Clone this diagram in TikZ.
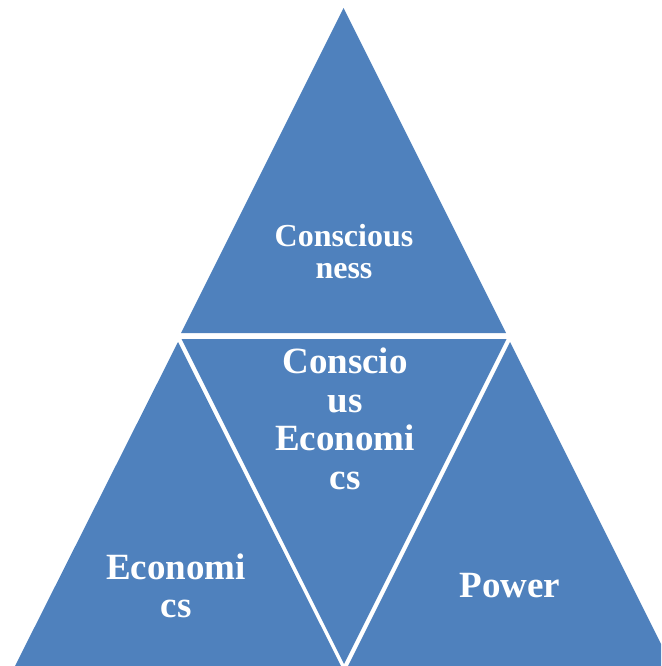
\documentclass[tikz,border=0pt]{standalone}
\usepackage{fontspec}
\setmainfont{Liberation Serif}
\definecolor{triblue}{HTML}{4F81BD}
\begin{document}
\begin{tikzpicture}[x=1pt,y=-1pt,
  tri/.style={fill=triblue,draw=none},
  lbl/.style={text=white,align=center,inner sep=0pt,font=\bfseries\fontsize{37}{38.5}\selectfont},
  lblsmall/.style={text=white,align=center,inner sep=0pt,font=\bfseries\fontsize{32}{32.5}\selectfont}]
\useasboundingbox (0,0) rectangle (661,666);
\begin{scope}
\clip (0,0) rectangle (661,666);
% top triangle
\fill[tri] (343.5,8) -- (506,333) -- (181,333) -- cycle;
% middle inverted triangle
\fill[tri] (181.5,339) -- (506.5,339) -- (344,664) -- cycle;
% left triangle
\fill[tri] (178,342) -- (341,666) -- (15,666) -- cycle;
% right triangle
\fill[tri] (510,342) -- (672,666) -- (348,666) -- cycle;
\end{scope}
\node[lblsmall] (top) at (344,251.5) {Conscious\\ness};
\node[lbl] (mid) at (345,419) {Conscio\\us\\Economi\\cs};
\node[lbl] (left) at (176,586) {Economi\\cs};
\node[lbl] (right) at (510,586) {Power};
\end{tikzpicture}
\end{document}
